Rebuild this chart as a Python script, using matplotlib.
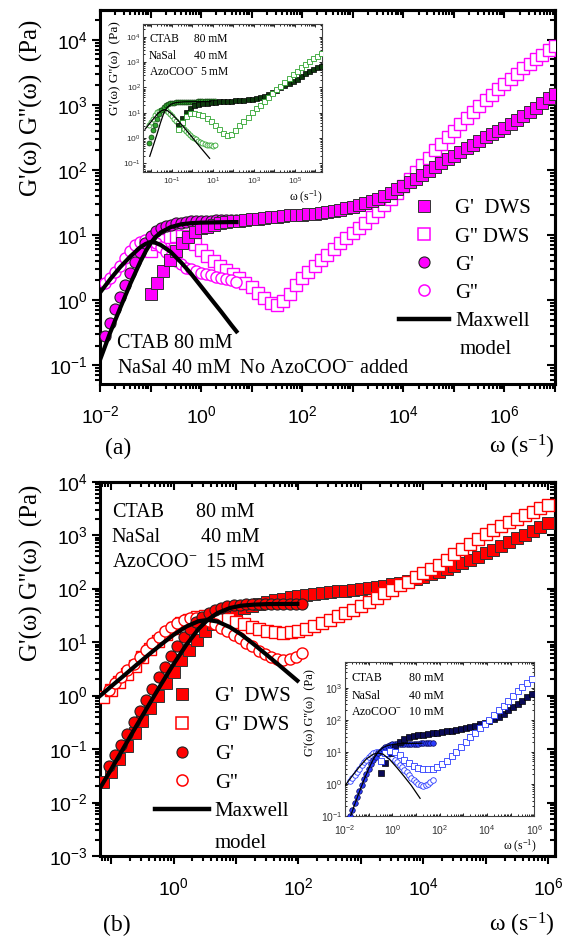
import numpy as np
import matplotlib
matplotlib.use("Agg")
import matplotlib.pyplot as plt
from matplotlib.lines import Line2D
from matplotlib.ticker import LogLocator, FuncFormatter, NullFormatter

SERIF = ['Liberation Serif', 'DejaVu Serif']
SANS = ['Liberation Sans', 'DejaVu Sans']
plt.rcParams['font.family'] = SERIF
plt.rcParams['mathtext.default'] = 'regular'

# ---------------- panel (a): no AzoCOO- ----------------
w_dws_a = [0.1, 0.133, 0.178, 0.237, 0.316, 0.422, 0.562, 0.75,
           1.0, 1.33, 1.78, 2.37, 3.16, 4.22, 5.62, 7.5,
           10, 13.3, 17.8, 23.7, 31.6, 42.2, 56.2, 75,
           100, 133, 178, 237, 316, 422, 562, 750,
           1e3, 1.33e3, 1.78e3, 2.37e3, 3.16e3, 4.22e3, 5.62e3, 7.5e3,
           1e4, 1.33e4, 1.78e4, 2.37e4, 3.16e4, 4.22e4, 5.62e4, 7.5e4,
           1e5, 1.33e5, 1.78e5, 2.37e5, 3.16e5, 4.22e5, 5.62e5, 7.5e5,
           1e6, 1.33e6, 1.78e6, 2.37e6, 3.16e6, 4.22e6, 5.62e6, 7.5e6, 1e7]
gp_dws_a = [1.26, 1.86, 2.82, 4.07, 5.62, 7.41, 9.33, 11.2,
            12.6, 13.5, 14.5, 15.1, 15.8, 16.2, 16.6, 17.0,
            17.4, 17.8, 18.2, 18.6, 19.1, 19.5, 20.0, 20.0,
            20.4, 20.9, 21.4, 21.9, 22.9, 23.4, 24.5, 25.7,
            26.9, 28.8, 30.9, 33.1, 36.3, 39.8, 44.7, 50.1,
            56.2, 64.6, 72.4, 83.2, 95.5, 110, 126, 145,
            166, 186, 214, 245, 282, 316, 355, 398,
            447, 513, 589, 676, 776, 912, 1072, 1259, 1479]
gpp_dws_a = [5.62, 7.24, 8.51, 9.33, 9.77, 9.55, 8.71, 7.24,
             5.89, 4.79, 3.98, 3.31, 2.88, 2.51, 2.19, 1.86,
             1.58, 1.29, 1.07, 0.912, 0.851, 0.955, 1.26, 1.70,
             2.19, 2.69, 3.31, 4.07, 5.01, 6.17, 7.41, 8.91,
             10.7, 12.9, 15.5, 19.1, 23.4, 28.8, 35.5, 44.7,
             56.2, 72.4, 93.3, 120, 155, 200, 251, 316,
             398, 501, 631, 776, 955, 1175, 1445, 1738,
             2089, 2512, 3020, 3631, 4266, 5012, 5888, 6918, 7943]
w_rheo_a = [0.0126, 0.0158, 0.02, 0.0251, 0.0316, 0.0398, 0.0501, 0.0631, 0.0794,
            0.1, 0.126, 0.158, 0.2, 0.251, 0.316, 0.398, 0.501, 0.631, 0.794,
            1.0, 1.26, 1.58, 2.0, 2.51, 3.16, 3.98, 5.01]
gp_rheo_a = [0.282, 0.447, 0.724, 1.12, 1.70, 2.57, 3.80, 5.50, 7.59,
             9.55, 11.5, 12.9, 13.8, 14.5, 15.1, 15.5, 15.8, 16.2, 16.2,
             16.6, 16.6, 16.6, 17.0, 17.0, 17.0, 17.0, 17.0]
gpp_rheo_a = [1.82, 2.19, 2.69, 3.39, 4.37, 5.62, 6.92, 7.94, 8.32,
              8.13, 7.41, 6.46, 5.50, 4.68, 3.98, 3.55, 3.16, 2.95, 2.75,
              2.63, 2.51, 2.40, 2.29, 2.19, 2.09, 2.00, 1.91]
w_max_a = [0.01, 0.016, 0.025, 0.04, 0.063, 0.08, 0.1, 0.125, 0.16,
           0.25, 0.4, 0.63, 1, 1.6, 2.5, 4, 5]
gp_max_a = [0.12, 0.32, 0.75, 1.8, 3.9, 5.6, 7.5, 9.3, 11.0,
            13.2, 14.6, 15.2, 15.5, 15.6, 15.7, 15.8, 15.8]
gpp_max_a = [1.3, 2.1, 3.2, 4.7, 6.5, 7.3, 7.8, 7.6, 7.0,
             5.5, 3.8, 2.55, 1.62, 1.02, 0.66, 0.41, 0.33]

# inset of (a): AzoCOO- 5 mM
w_rheo_ia = [0.00794, 0.01, 0.0126, 0.0158, 0.02, 0.0251, 0.0316, 0.0398, 0.0501,
             0.0631, 0.0794, 0.1, 0.126, 0.158, 0.2, 0.251, 0.316, 0.398, 0.501,
             0.631, 0.794, 1.0, 1.26, 1.58, 2.0, 2.51, 3.16, 3.98, 5.01, 6.31,
             7.94, 10.0, 12.6]
gp_rheo_ia = [0.631, 1.12, 2.0, 3.31, 5.5, 8.91, 12.9, 17.0, 20.4,
              22.4, 23.4, 24.5, 25.1, 25.7, 26.3, 26.3, 26.9, 26.9, 26.9,
              27.5, 27.5, 27.5, 27.5, 27.5, 28.2, 28.2, 28.2, 28.2, 28.2, 28.2,
              28.2, 28.2, 28.2]
gpp_rheo_ia = [3.16, 4.17, 5.75, 7.94, 10.2, 12.0, 12.9, 13.2, 12.3,
               10.7, 8.91, 7.24, 5.89, 4.79, 3.89, 3.24, 2.69, 2.24, 1.91,
               1.58, 1.35, 1.15, 1.0, 0.891, 0.794, 0.708, 0.646, 0.589, 0.55, 0.525,
               0.513, 0.501, 0.513]
w_dws_ia = [0.2, 0.316, 0.501, 0.794, 1.26, 2.0, 3.16, 5.01, 7.94, 12.6,
            20, 31.6, 50.1, 79.4, 126, 200, 316, 501, 794, 1260,
            2000, 3160, 5010, 7940, 1.26e4, 2e4, 3.16e4, 5.01e4, 7.94e4, 1.26e5,
            2e5, 3.16e5, 5.01e5, 7.94e5, 1.26e6, 2e6]
gp_dws_ia = [3.39, 6.31, 10.5, 15.8, 20.0, 22.4, 24.0, 25.1, 26.3, 27.5,
             28.2, 28.8, 29.5, 30.2, 30.9, 31.6, 32.4, 33.9, 35.5, 38.0,
             41.7, 46.8, 55.0, 66.1, 81.3, 100, 120, 145, 178, 224,
             288, 363, 447, 537, 631, 724]
gpp_dws_ia = [2.24, 4.17, 7.24, 9.33, 10.0, 9.12, 7.94, 6.31, 4.68, 3.31,
              2.24, 1.58, 1.35, 1.51, 2.14, 3.16, 4.79, 7.08, 10.2, 14.8,
              20.9, 29.5, 41.7, 58.9, 83.2, 117, 166, 234, 324, 447,
              617, 832, 1096, 1413, 1778, 2188]
w_max_gp_ia = [0.0085, 0.0126, 0.02, 0.0282, 0.0398, 0.0562, 0.0891, 0.158, 0.398, 2.0, 7.94]
gp_max_ia = [0.19, 0.5, 1.58, 3.98, 8.91, 15.1, 21.4, 25.1, 26.9, 27.5, 27.5]
w_max_gpp_ia = [0.005, 0.00794, 0.0126, 0.02, 0.0316, 0.0447, 0.0631, 0.1, 0.2,
                0.398, 1.0, 2.51, 7.08]
gpp_max_ia = [2.24, 3.55, 5.62, 8.91, 12.0, 13.2, 12.0, 8.91, 5.01,
              2.63, 1.07, 0.427, 0.158]

# ---------------- panel (b): AzoCOO- 15 mM ----------------
w_dws_b = [0.075, 0.1, 0.133, 0.178, 0.237, 0.316, 0.422, 0.562, 0.75,
           1.0, 1.33, 1.78, 2.37, 3.16, 4.22, 5.62, 7.5,
           10, 13.3, 17.8, 23.7, 31.6, 42.2, 56.2, 75,
           100, 133, 178, 237, 316, 422, 562, 750,
           1e3, 1.33e3, 1.78e3, 2.37e3, 3.16e3, 4.22e3, 5.62e3, 7.5e3,
           1e4, 1.33e4, 1.78e4, 2.37e4, 3.16e4, 4.22e4, 5.62e4, 7.5e4,
           1e5, 1.33e5, 1.78e5, 2.37e5, 3.16e5, 4.22e5, 5.62e5, 7.5e5,
           1e6]
gp_dws_b = [0.024, 0.038, 0.066, 0.115, 0.20, 0.339, 0.589, 1.00, 1.70,
            2.82, 4.57, 7.24, 11.0, 15.8, 21.9, 28.2, 33.9,
            39.8, 43.7, 47.9, 52.5, 56.2, 60.3, 64.6, 69.2,
            72.4, 75.9, 79.4, 83.2, 85.1, 89.1, 91.2, 95.5,
            97.7, 102, 107, 112, 120, 129, 138, 151,
            166, 186, 209, 234, 263, 302, 347, 398,
            457, 537, 631, 741, 871, 1023, 1202, 1413,
            1660]
gpp_dws_b = [0.93, 1.26, 1.78, 2.51, 3.55, 5.25, 7.59, 10.5, 14.1,
             18.2, 22.4, 26.3, 29.5, 30.9, 30.9, 29.5, 26.9,
             24.0, 21.4, 19.1, 17.4, 16.2, 15.5, 15.1, 15.5,
             16.2, 17.8, 20.0, 22.9, 26.3, 30.2, 35.5, 40.7,
             47.9, 56.2, 67.6, 81.3, 95.5, 115, 135, 162,
             195, 234, 282, 347, 437, 550, 692, 851,
             1047, 1259, 1479, 1738, 2042, 2399, 2754, 3162,
             3631]
w_rheo_b = [0.0912, 0.115, 0.144, 0.182, 0.229, 0.288, 0.363, 0.457, 0.575, 0.724,
            0.912, 1.15, 1.44, 1.82, 2.29, 2.88, 3.63, 4.57, 5.75, 7.24,
            9.12, 11.5, 14.4, 18.2, 22.9, 28.8, 36.3, 45.7, 57.5, 72.4,
            91.2, 115]
gp_rheo_b = [0.0479, 0.0759, 0.120, 0.195, 0.316, 0.513, 0.832, 1.35, 2.19, 3.47,
             5.50, 8.32, 12.3, 17.4, 23.4, 29.5, 35.5, 39.8, 43.7, 46.8,
             49.0, 50.1, 51.3, 52.5, 52.5, 52.5, 52.5, 52.5, 52.5, 52.5,
             52.5, 52.5]
gpp_rheo_b = [1.29, 1.70, 2.24, 2.95, 3.98, 5.37, 7.24, 9.77, 12.6, 15.8,
              19.5, 22.9, 26.3, 28.2, 28.8, 27.5, 25.1, 21.9, 18.6, 15.8,
              13.8, 11.7, 9.77, 8.32, 6.92, 6.03, 5.37, 4.90, 4.68, 4.79,
              5.37, 6.31]
w_max_b = [0.065, 0.1, 0.16, 0.25, 0.4, 0.63, 1, 1.6, 2.5, 3.5, 5, 8, 12, 20, 32, 50, 96]
gp_max_b = [0.018, 0.042, 0.108, 0.265, 0.67, 1.63, 3.9, 8.9, 17.6, 26.0,
            34.8, 43.5, 48.0, 50.4, 51.4, 51.7, 51.9]
gpp_max_b = [0.97, 1.49, 2.37, 3.70, 5.86, 9.04, 13.7, 19.6, 24.6, 26.0,
             24.3, 19.0, 14.0, 8.8, 5.6, 3.62, 1.90]

# inset of (b): AzoCOO- 10 mM
w_rheo_ib = [0.0158, 0.02, 0.0251, 0.0316, 0.0398, 0.0501, 0.0631, 0.0794, 0.1,
             0.126, 0.158, 0.2, 0.251, 0.316, 0.398, 0.501, 0.631, 0.794, 1.0,
             1.26, 1.58, 2.0, 2.51, 3.16, 3.98, 5.01, 6.31, 7.94, 10,
             12.6, 15.8, 20, 25.1, 31.6, 39.8, 50.1]
gp_rheo_ib = [0.1, 0.158, 0.251, 0.398, 0.603, 0.912, 1.38, 2.04, 2.88,
              4.07, 5.50, 7.08, 8.91, 10.7, 12.6, 14.1, 15.5, 16.6, 17.0,
              17.4, 17.4, 17.8, 17.8, 17.8, 17.8, 18.2, 18.2, 18.2, 18.2,
              18.2, 18.6, 18.6, 18.6, 18.6, 18.6, 18.6]
gpp_rheo_ib = [1.26, 1.55, 1.91, 2.40, 3.02, 3.80, 4.68, 5.75, 6.92,
               7.94, 8.91, 9.55, 10.0, 10.0, 9.55, 8.91, 8.13, 7.24, 6.31,
               5.50, 4.68, 3.89, 3.31, 2.75, 2.29, 1.91, 1.58, 1.35, 1.15,
               1.0, 0.912, 0.891, 0.933, 1.02, 1.15, 1.29]
w_dws_ib = [0.316, 0.501, 0.794, 1.26, 2.0, 3.16, 5.01, 7.94, 12.6, 20,
            31.6, 50.1, 79.4, 126, 200, 316, 501, 794, 1260, 2000,
            3160, 5010, 7940, 1.26e4, 2e4, 3.16e4, 5.01e4, 7.94e4, 1.26e5, 2e5,
            3.16e5, 5.01e5, 7.94e5]
gp_dws_ib = [2.24, 4.47, 8.91, 13.8, 20.0, 24.5, 28.2, 30.9, 33.1, 34.7,
             36.3, 38.0, 39.8, 41.7, 43.7, 45.7, 47.9, 51.3, 55.0, 60.3,
             66.1, 72.4, 79.4, 91.2, 105, 126, 155, 195, 251, 316,
             398, 501, 631]
gpp_dws_ib = [5.25, 8.91, 11.0, 10.2, 7.94, 5.75, 4.37, 3.55, 3.09, 2.88,
              2.88, 3.02, 3.47, 4.17, 5.37, 7.24, 10.2, 14.5, 20.4, 28.8,
              39.8, 55.0, 74.1, 100, 138, 195, 275, 389, 550, 776,
              1072, 1413, 1862]
w_max_gp_ib = [0.017, 0.0251, 0.0398, 0.0631, 0.1, 0.158, 0.251, 0.398, 0.631, 1.58, 5.01, 17.8]
gp_max_ib = [0.1, 0.224, 0.562, 1.35, 3.02, 6.03, 10.0, 13.5, 15.8, 17.8, 18.2, 18.6]
w_max_gpp_ib = [0.01, 0.02, 0.0398, 0.0794, 0.158, 0.251, 0.398, 0.794, 1.58, 3.16, 6.31, 14.8]
gpp_max_ib = [0.891, 1.78, 3.39, 6.03, 8.51, 9.12, 8.51, 5.62, 3.16, 1.70, 0.891, 0.355]

MAG = '#ff00ff'
RED = '#ff0000'
GRN = '#2fa52f'
DKGRN = '#0d3a0d'
BLU = '#2b3cff'
NAVY = '#0a0a55'


def log_ticks(axis, show):
    axis.set_major_locator(LogLocator(base=10, numticks=40))
    axis.set_minor_locator(LogLocator(base=10, subs=np.arange(2, 10), numticks=40))
    axis.set_minor_formatter(NullFormatter())
    if show is None:
        axis.set_major_formatter(NullFormatter())
    else:
        def f(v, pos):
            e = int(round(np.log10(v)))
            return r'$10^{%d}$' % e if e in show else ''
        axis.set_major_formatter(FuncFormatter(f))


def frame_main(ax, xlim, ylim, xshow, yshow):
    ax.set_xscale('log')
    ax.set_yscale('log')
    ax.set_xlim(*xlim)
    ax.set_ylim(*ylim)
    log_ticks(ax.xaxis, xshow)
    log_ticks(ax.yaxis, yshow)
    ax.tick_params(which='both', direction='out', width=1.5, top=False, right=False,
                   labelsize=14, labelfontfamily=SANS)
    ax.tick_params(which='major', length=6)
    ax.tick_params(which='minor', length=3.5)
    ax.tick_params(axis='x', pad=9)
    ax.tick_params(axis='y', pad=3)
    for sp in ax.spines.values():
        sp.set_linewidth(2.2)
    sx = ax.secondary_xaxis('top')
    sy = ax.secondary_yaxis('right')
    for sec, axis in ((sx, sx.xaxis), (sy, sy.yaxis)):
        log_ticks(axis, None)
        sec.tick_params(which='both', direction='in', width=1.5)
        sec.tick_params(which='major', length=6)
        sec.tick_params(which='minor', length=3.5)
        for sp in sec.spines.values():
            sp.set_linewidth(2.2)


def frame_inset(ax, xlim, ylim, xshow, yshow, lsize):
    ax.set_xscale('log')
    ax.set_yscale('log')
    ax.set_xlim(*xlim)
    ax.set_ylim(*ylim)
    log_ticks(ax.xaxis, xshow)
    log_ticks(ax.yaxis, yshow)
    ax.tick_params(which='both', direction='in', top=True, right=True, width=0.6,
                   labelsize=lsize, labelfontfamily=SANS, pad=1.5, labelcolor='#333333')
    ax.tick_params(axis='x', pad=5)
    ax.tick_params(which='major', length=2.5)
    ax.tick_params(which='minor', length=1.3)
    for sp in ax.spines.values():
        sp.set_linewidth(0.8)
        sp.set_color('#444444')


def marks(ax, x, y, marker, face, edge, ms, mew, z=3):
    ax.plot(x, y, ls='none', marker=marker, ms=ms, mfc=face, mec=edge, mew=mew, zorder=z)


def legend_for(ax, color, anchor, hlen, spacing):
    h = [Line2D([], [], ls='none', marker='s', ms=8, mfc=color, mec='#333333', mew=0.7),
         Line2D([], [], ls='none', marker='s', ms=8, mfc='white', mec=color, mew=1.1),
         Line2D([], [], ls='none', marker='o', ms=8, mfc=color, mec='#222222', mew=0.8),
         Line2D([], [], ls='none', marker='o', ms=8, mfc='white', mec=color, mew=1.1),
         Line2D([], [], color='black', lw=3.2)]
    lab = ["G'  DWS", "G'' DWS", "G'", "G''", "Maxwell"]
    ax.legend(h, lab, loc='upper left', bbox_to_anchor=anchor, frameon=False,
              prop={'family': SERIF, 'size': 15}, handlelength=hlen, handletextpad=0.3,
              labelspacing=spacing, borderpad=0, borderaxespad=0)


fig = plt.figure(figsize=(5.65, 9.39), dpi=100)
axA = fig.add_axes([0.177, 0.5911, 0.8053, 0.3983])
axB = fig.add_axes([0.177, 0.0884, 0.8053, 0.3986])
insA = fig.add_axes([0.2531, 0.8171, 0.3168, 0.1573])
insB = fig.add_axes([0.6099, 0.1310, 0.3358, 0.1643])

# ---- panel (a)
frame_main(axA, (1e-2, 1e7), (10 ** -1.29, 10 ** 4.46), {-2, 0, 2, 4, 6}, {-1, 0, 1, 2, 3, 4})
marks(axA, w_dws_a, gpp_dws_a, 's', 'white', MAG, 8, 1.0)
marks(axA, w_rheo_a, gpp_rheo_a, 'o', 'white', MAG, 8, 1.0)
marks(axA, w_rheo_a, gp_rheo_a, 'o', MAG, '#222222', 8, 0.8)
marks(axA, w_dws_a, gp_dws_a, 's', MAG, '#333333', 8, 0.7)
axA.plot(w_max_a, gp_max_a, color='black', lw=3, zorder=5)
axA.plot(w_max_a, gpp_max_a, color='black', lw=3, zorder=5)

axA.text(0.037, 0.108, 'CTAB 80 mM', transform=axA.transAxes, fontsize=14.5, va='center')
axA.text(0.037, 0.040, 'NaSal 40 mM  No AzoCOO$^{-}$ added', transform=axA.transAxes,
         fontsize=14.5, va='center')
legend_for(axA, MAG, (0.6565, 0.495), 2.4, 0.41)
axA.text(0.790, 0.091, 'model', transform=axA.transAxes, fontsize=15, va='center')

# ---- inset (a)
frame_inset(insA, (10 ** -2.4, 10 ** 6.33), (10 ** -1.33, 10 ** 4.5), {-1, 1, 3, 5},
            {-1, 0, 1, 2, 3, 4}, 6)
insA.tick_params(axis='x', pad=3)
marks(insA, w_rheo_ia, gpp_rheo_ia, 'o', 'white', GRN, 3.6, 0.6)
marks(insA, w_rheo_ia, gp_rheo_ia, 'o', GRN, DKGRN, 3.6, 0.5)
marks(insA, w_dws_ia, gp_dws_ia, 's', DKGRN, '#000000', 3.6, 0.5)
marks(insA, w_dws_ia, gpp_dws_ia, 's', 'white', GRN, 3.6, 0.6)
insA.plot(w_max_gp_ia, gp_max_ia, color='black', lw=0.9, zorder=5)
insA.plot(w_max_gpp_ia, gpp_max_ia, color='black', lw=0.9, zorder=5)
for yy, name, val in ((0.896, 'CTAB', '80 mM'), (0.783, 'NaSal', '40 mM')):
    insA.text(0.034, yy, name, transform=insA.transAxes, fontsize=8.3, va='center')
    insA.text(0.285, yy, val, transform=insA.transAxes, fontsize=8.3, va='center')
insA.text(0.034, 0.677, 'AzoCOO$^{-}$ 5 mM', transform=insA.transAxes, fontsize=8.3, va='center')
fig.text(115 / 565, 1 - 68.5 / 939, "G'(ω) G''(ω)  (Pa)", rotation=90, fontsize=9.5,
         ha='center', va='center')
fig.text(323 / 565, 1 - 197 / 939, 'ω (s$^{-1}$)', fontsize=8.5, ha='right', va='center')

# ---- panel (b)
frame_main(axB, (10 ** -1.18, 10 ** 6.11), (1e-3, 1e4), {0, 2, 4, 6},
           {-3, -2, -1, 0, 1, 2, 3, 4})
marks(axB, w_dws_b, gp_dws_b, 's', RED, '#333333', 8, 0.7)
marks(axB, w_dws_b, gpp_dws_b, 's', 'white', RED, 8, 1.0)
marks(axB, w_rheo_b, gpp_rheo_b, 'o', 'white', RED, 8, 1.0)
marks(axB, w_rheo_b, gp_rheo_b, 'o', RED, '#222222', 8, 0.8)
axB.plot(w_max_b, gp_max_b, color='black', lw=3, zorder=5)
axB.plot(w_max_b, gpp_max_b, color='black', lw=3, zorder=5)
for yy, name, xv, val in ((0.919, 'CTAB', 0.212, '80 mM'), (0.852, 'NaSal', 0.222, '40 mM'),
                          (0.784, 'AzoCOO$^{-}$', 0.232, '15 mM')):
    axB.text(0.026, yy, name, transform=axB.transAxes, fontsize=14.5, va='center')
    axB.text(xv, yy, val, transform=axB.transAxes, fontsize=14.5, va='center')
legend_for(axB, RED, (0.1215, 0.452), 2.56, 0.44)
axB.text(0.2521, 0.034, 'model', transform=axB.transAxes, fontsize=15, va='center')

# ---- inset (b)
frame_inset(insB, (0.0095, 1.0e6), (0.1, 10 ** 3.81), {-2, 0, 2, 4, 6},
            {-1, 0, 1, 2, 3}, 7.5)
marks(insB, w_rheo_ib, gpp_rheo_ib, 'o', 'white', BLU, 4, 0.6)
marks(insB, w_rheo_ib, gp_rheo_ib, 'o', BLU, NAVY, 4, 0.5)
marks(insB, w_dws_ib, gp_dws_ib, 's', NAVY, '#000000', 4, 0.5)
marks(insB, w_dws_ib, gpp_dws_ib, 's', 'white', BLU, 4, 0.6)
insB.plot(w_max_gp_ib, gp_max_ib, color='black', lw=0.9, zorder=5)
insB.plot(w_max_gpp_ib, gpp_max_ib, color='black', lw=0.9, zorder=5)
for yy, name, val in ((0.892, 'CTAB', '80 mM'), (0.780, 'NaSal', '40 mM'),
                      (0.672, 'AzoCOO$^{-}$', '10 mM')):
    insB.text(0.035, yy, name, transform=insB.transAxes, fontsize=8.6, va='center')
    insB.text(0.342, yy, val, transform=insB.transAxes, fontsize=8.6, va='center')
fig.text(310 / 565, 1 - 713 / 939, "G'(ω) G''(ω)  (Pa)", rotation=90, fontsize=9,
         ha='center', va='center')
fig.text(537 / 565, 1 - 846 / 939, 'ω (s$^{-1}$)', fontsize=8.5, ha='right', va='center')

# ---- outer labels
fig.text(31 / 565, 1 - 108 / 939, "G'(ω) G''(ω)  (Pa)", rotation=90, fontsize=18,
         ha='center', va='center')
fig.text(31 / 565, 1 - 573 / 939, "G'(ω) G''(ω)  (Pa)", rotation=90, fontsize=18,
         ha='center', va='center')
fig.text(555 / 565, 1 - 447 / 939, 'ω (s$^{-1}$)', fontsize=17, ha='right', va='center')
fig.text(555 / 565, 1 - 925 / 939, 'ω (s$^{-1}$)', fontsize=17, ha='right', va='center')
fig.text(118 / 565, 1 - 448 / 939, '(a)', fontsize=17, ha='center', va='center')
fig.text(117 / 565, 1 - 925 / 939, '(b)', fontsize=17, ha='center', va='center')

fig.savefig('out.png', dpi=100, facecolor='white')
